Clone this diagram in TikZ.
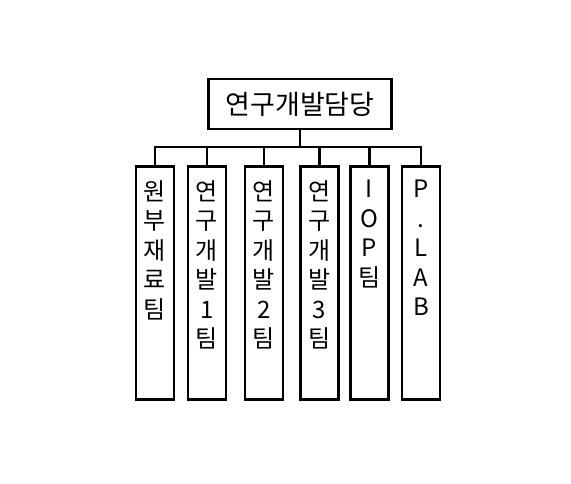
\documentclass[tikz,border=0pt]{standalone}
\usepackage{fontspec}
\newfontfamily\cjk{Noto Sans CJK KR}
\begin{document}
\begin{tikzpicture}[x=1pt,y=-1pt,
  box/.style={draw=black,line width=2.8pt,rectangle,inner sep=0pt},
  team/.style={box,minimum width=38pt,minimum height=233pt},
  vtext/.style={anchor=north,align=center,inner sep=0pt,font=\cjk\fontsize{24}{29.5}\selectfont},
  link/.style={draw=black,line width=2.8pt}]
\useasboundingbox (0,0) rectangle (571,484);
\fill[white] (0,0) rectangle (571,484);
\node[box,minimum width=183pt,minimum height=50pt,font=\cjk\fontsize{27}{30}\selectfont] (top) at (300,104) {연구개발담당};
\node[team] (b1) at (155,283) {};
\node[team] (b2) at (207,283) {};
\node[team] (b3) at (264,283) {};
\node[team] (b4) at (319.5,283) {};
\node[team] (b5) at (369.5,283) {};
\node[team] (b6) at (421,283) {};
\node[vtext] (t1) at ([yshift=-15pt]b1.north) {원\\부\\재\\료\\팀};
\node[vtext] (t2) at ([yshift=-15pt]b2.north) {연\\구\\개\\발\\1\\팀};
\node[vtext] (t3) at ([yshift=-15pt]b3.north) {연\\구\\개\\발\\2\\팀};
\node[vtext] (t4) at ([yshift=-15pt]b4.north) {연\\구\\개\\발\\3\\팀};
\node[vtext] (t5) at ([yshift=-15pt]b5.north) {I\\O\\P\\팀};
\node[vtext] (t6) at ([yshift=-15pt]b6.north) {P\\.\\L\\A\\B};
\coordinate (bus) at (300,147);
\draw[link] (top.south) -- (bus);
\draw[link,line cap=rect] (b1.north |- bus) -- (b6.north |- bus);
\foreach \b in {b1,b2,b3,b4,b5,b6} {\draw[link] (\b.north) -- (\b.north |- bus);}
\end{tikzpicture}
\end{document}
